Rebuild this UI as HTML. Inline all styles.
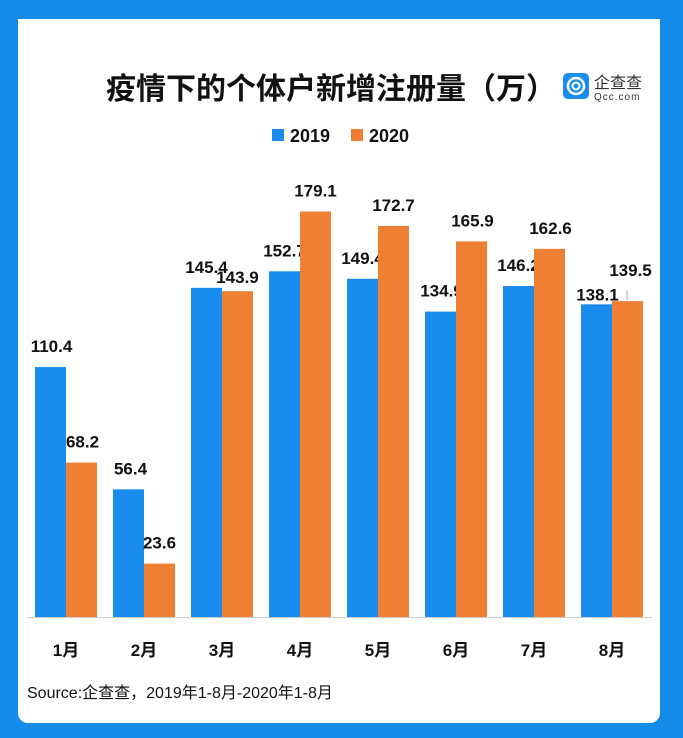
<!DOCTYPE html>
<html><head><meta charset="utf-8"><style>
body{margin:0;width:683px;height:738px;background:#158bea;font-family:"Liberation Sans","Noto Sans CJK SC",sans-serif;overflow:hidden}
#panel{position:absolute;left:18px;top:19px;width:642px;height:704px;background:#fff;border-radius:0 0 10px 10px}
</style></head><body>
<div id="panel"></div>
<svg width="683" height="738" style="position:absolute;left:0;top:0">
<text x="331" y="99" text-anchor="middle" font-size="30" font-weight="bold" fill="#111" font-family="Noto Sans CJK SC,sans-serif">疫情下的个体户新增注册量（万）</text>
<g>
<rect x="563" y="73" width="26" height="26" rx="5" fill="#1a8cf0"/>
<circle cx="576" cy="86" r="8" fill="none" stroke="#fff" stroke-width="2.5"/>
<circle cx="576" cy="86" r="3.5" fill="none" stroke="#fff" stroke-width="2"/>
<text x="594" y="88" font-size="16" fill="#333" font-family="Noto Sans CJK SC,sans-serif">企查查</text>
<text x="594" y="100" font-size="10" fill="#333" font-family="Liberation Sans,sans-serif" letter-spacing="1">Qcc.com</text>
</g>
<g>
<rect x="272" y="129" width="12" height="12" fill="#1a8cf0"/>
<text x="290" y="142" font-size="18" font-weight="bold" fill="#111">2019</text>
<rect x="351" y="129" width="12" height="12" fill="#ee7f33"/>
<text x="369" y="142" font-size="18" font-weight="bold" fill="#111">2020</text>
</g>
<line x1="27" y1="617.5" x2="652" y2="617.5" stroke="#ccc" stroke-width="1"/>
<g id="bars"></g>
<text x="27" y="698" font-size="16" fill="#111" font-family="Liberation Sans,Noto Sans CJK SC,sans-serif">Source:企查查，2019年1-8月-2020年1-8月</text>
</svg>
<script>
const categories=["1月","2月","3月","4月","5月","6月","7月","8月"];
const values2019=[110.4,56.4,145.4,152.7,149.4,134.9,146.2,138.1];
const values2020=[68.2,23.6,143.9,179.1,172.7,165.9,162.6,139.5];
// label nudges (layout only)
const nudgeX2019=[1,2,0,0,0,1,0,1];
const nudgeY2019=[0,0,0,0,0,0,0,11];
const nudgeX2020=[1,0,0,0,0,1,1,3];
const nudgeY2020=[0,0,7,0,0,0,0,-10];
const baseY=617, pxPerUnit=2.264, x0=35, step=78, bw=31;
const yScale=v=>baseY-v*pxPerUnit;
const g=document.getElementById('bars');
const NS="http://www.w3.org/2000/svg";
function mk(tag,attrs){const e=document.createElementNS(NS,tag);for(const k in attrs)e.setAttribute(k,attrs[k]);g.appendChild(e);return e;}
categories.forEach((c,i)=>{
  const bx=x0+i*step;
  [[values2019[i],'#1a8cf0',bx,'2019',nudgeX2019[i],nudgeY2019[i]],[values2020[i],'#ee7f33',bx+bw,'2020',nudgeX2020[i],nudgeY2020[i]]].forEach(([v,col,x,s,dx,dy])=>{
    const r=mk('rect',{x:x,y:yScale(v),width:bw,height:v*pxPerUnit,fill:col});
    
    
    if(dy<-5){
      const ln=mk('line',{x1:x+bw/2-0.5,y1:yScale(v)-1,x2:x+bw/2-0.5,y2:yScale(v)-11,stroke:'#aaa','stroke-width':1});
      
      
    }
    const t=mk('text',{x:x+bw/2+dx,y:yScale(v)-15+dy,'text-anchor':'middle','font-size':'17','font-weight':'bold',fill:'#111'});
    t.textContent=v.toFixed(1);
    
    
  });
  const l=mk('text',{x:bx+bw,y:656,'text-anchor':'middle','font-size':'17','font-weight':'bold',fill:'#111','font-family':'Liberation Sans,Noto Sans CJK SC,sans-serif'});
  l.textContent=c;
  
  
});
</script>
</body></html>
